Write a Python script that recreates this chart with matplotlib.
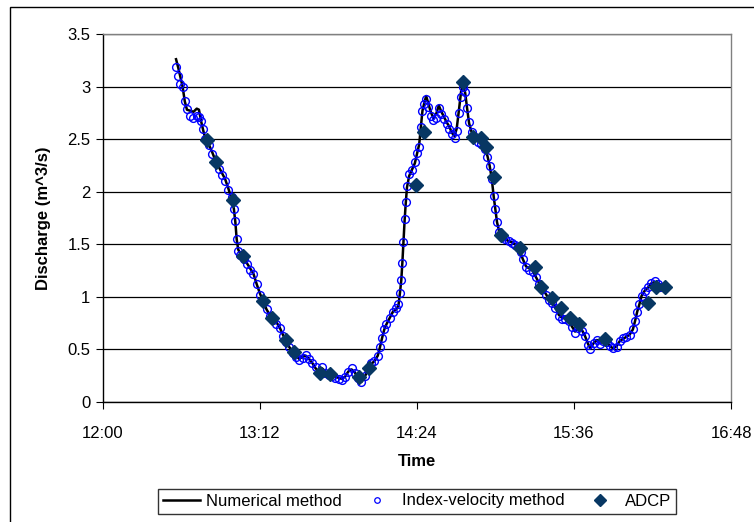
import matplotlib
matplotlib.use("Agg")
import matplotlib.pyplot as plt
from matplotlib.patches import Rectangle
from matplotlib.lines import Line2D

# time in minutes after 12:00
times = [33.5, 34.5, 35.5, 36.5, 37.5, 38.5, 40.0, 41.5, 43.0, 44.0, 45.0, 46.0, 47.0, 48.5,
         50.0, 51.5, 53.0, 54.5, 56.0, 57.5, 59.0, 60.0, 60.7, 61.3, 62.0, 63.0, 64.5, 66.0,
         67.5, 69.0, 70.5, 72.0, 73.5, 75.0, 76.5, 78.0, 79.5, 81.0, 82.5, 84.0, 85.5, 87.0,
         88.5, 90.0, 91.5, 93.0, 94.5, 96.0, 97.5, 99.0, 100.5, 102.0, 103.5, 105.0, 106.5,
         108.0, 109.5, 111.0, 112.5, 114.0, 115.5, 117.0, 118.5, 120.0, 121.5, 123.0, 124.5,
         126.0, 127.0, 128.0, 129.0, 130.0, 131.5, 133.0, 134.5, 135.5, 136.2, 136.8, 137.3,
         137.8, 138.3, 138.8, 139.4, 140.4, 141.7, 143.0, 144.0, 145.0, 145.8, 146.5, 147.4,
         148.2, 149.2, 150.3, 151.5, 152.8, 154.0, 155.2, 156.4, 157.6, 158.8, 160.0, 161.2,
         162.2, 163.2, 164.2, 165.1, 166.1, 167.0, 167.9, 169.0, 170.5, 172.0, 173.5, 175.0,
         176.3, 177.3, 178.3, 179.2, 179.9, 180.7, 181.7, 183.0, 184.5, 186.0, 187.5, 189.0,
         190.5, 191.5, 192.5, 194.0, 195.5, 197.0, 198.5, 200.0, 201.5, 203.0, 204.5, 206.0,
         207.5, 209.0, 210.5, 212.0, 213.5, 215.0, 216.5, 218.0, 219.5, 221.0, 222.5, 223.5,
         225.0, 226.5, 228.0, 229.5, 231.0, 232.5, 234.0, 235.5, 237.0, 238.5, 240.0, 241.5,
         243.0, 244.0, 245.0, 246.0, 247.0, 248.5, 250.0, 251.5, 253.0, 254.5, 255.5]

numerical = [3.26, 3.18, 3.09, 3.00, 2.86, 2.78, 2.77, 2.76, 2.79, 2.78, 2.67, 2.58, 2.50, 2.45,
             2.38, 2.30, 2.24, 2.18, 2.12, 2.03, 1.93, 1.84, 1.71, 1.55, 1.45, 1.41, 1.38, 1.32,
             1.27, 1.22, 1.12, 1.03, 0.96, 0.88, 0.83, 0.79, 0.76, 0.71, 0.64, 0.58, 0.52, 0.48,
             0.44, 0.41, 0.43, 0.44, 0.41, 0.37, 0.32, 0.29, 0.32, 0.29, 0.27, 0.25, 0.24,
             0.23, 0.22, 0.24, 0.29, 0.31, 0.28, 0.23, 0.19, 0.24, 0.30, 0.36, 0.39,
             0.44, 0.52, 0.61, 0.69, 0.74, 0.80, 0.86, 0.88, 0.92, 1.04, 1.16, 1.33,
             1.53, 1.72, 1.88, 2.04, 2.15, 2.21, 2.27, 2.36, 2.45, 2.62, 2.77, 2.85,
             2.91, 2.84, 2.76, 2.70, 2.74, 2.82, 2.76, 2.71, 2.66, 2.62, 2.56, 2.53,
             2.60, 2.77, 2.95, 3.02, 2.94, 2.79, 2.65, 2.57, 2.53, 2.48, 2.45, 2.42,
             2.34, 2.25, 2.12, 1.95, 1.84, 1.71, 1.62, 1.57, 1.55, 1.53, 1.52, 1.50,
             1.47, 1.42, 1.36, 1.29, 1.27, 1.25, 1.19, 1.13, 1.08, 1.03, 0.98, 0.95,
             0.90, 0.83, 0.80, 0.80, 0.78, 0.72, 0.67, 0.70, 0.69, 0.63, 0.55, 0.51,
             0.56, 0.59, 0.56, 0.58, 0.57, 0.53, 0.51, 0.53, 0.58, 0.60, 0.62, 0.64,
             0.69, 0.77, 0.86, 0.93, 1.01, 1.06, 1.09, 1.13, 1.14, 1.12, 1.09]

index_velocity = [3.19, 3.10, 3.02, 3.00, 2.86, 2.79, 2.72, 2.70, 2.72, 2.71, 2.67, 2.60, 2.50, 2.44,
                  2.36, 2.28, 2.22, 2.16, 2.10, 2.02, 1.95, 1.84, 1.72, 1.55, 1.44, 1.40, 1.36, 1.31,
                  1.26, 1.22, 1.12, 1.02, 0.95, 0.88, 0.82, 0.78, 0.74, 0.70, 0.63, 0.57, 0.52, 0.47,
                  0.43, 0.40, 0.42, 0.45, 0.41, 0.37, 0.33, 0.28, 0.33, 0.28, 0.26, 0.25, 0.23,
                  0.22, 0.21, 0.24, 0.29, 0.32, 0.28, 0.23, 0.19, 0.25, 0.31, 0.37, 0.39,
                  0.44, 0.52, 0.61, 0.69, 0.74, 0.80, 0.86, 0.89, 0.93, 1.04, 1.16, 1.32,
                  1.52, 1.74, 1.90, 2.05, 2.17, 2.21, 2.28, 2.37, 2.43, 2.62, 2.77, 2.83,
                  2.88, 2.81, 2.72, 2.68, 2.70, 2.80, 2.74, 2.69, 2.64, 2.60, 2.55, 2.51,
                  2.58, 2.75, 2.90, 3.00, 2.95, 2.80, 2.66, 2.57, 2.52, 2.47, 2.45, 2.41,
                  2.33, 2.24, 2.12, 1.96, 1.84, 1.71, 1.62, 1.57, 1.55, 1.53, 1.51, 1.49,
                  1.47, 1.43, 1.36, 1.28, 1.26, 1.24, 1.19, 1.12, 1.07, 1.02, 0.97, 0.94,
                  0.89, 0.82, 0.79, 0.79, 0.77, 0.71, 0.66, 0.70, 0.68, 0.63, 0.54, 0.50,
                  0.56, 0.59, 0.55, 0.58, 0.57, 0.53, 0.51, 0.52, 0.58, 0.61, 0.62, 0.64,
                  0.69, 0.77, 0.86, 0.93, 1.01, 1.06, 1.09, 1.13, 1.15, 1.12, 1.09]

adcp_times = [47.7, 51.8, 59.6, 64.2, 73.4, 77.5, 83.9, 87.6, 99.5, 104.1, 117.4, 122.0,
              143.6, 147.2, 165.1, 169.7, 173.4, 175.7, 179.4, 182.6, 191.3, 198.2, 200.9,
              206.0, 210.1, 214.2, 218.3, 230.3, 250.0, 253.7, 257.8]
adcp_values = [2.49, 2.28, 1.92, 1.39, 0.96, 0.80, 0.59, 0.48, 0.28, 0.27, 0.24, 0.32,
               2.06, 2.57, 3.04, 2.52, 2.51, 2.43, 2.14, 1.59, 1.46, 1.28, 1.09,
               0.99, 0.89, 0.80, 0.74, 0.60, 0.94, 1.09, 1.09]

x_ticks = [0, 72, 144, 216, 288]
x_tick_labels = ["12:00", "13:12", "14:24", "15:36", "16:48"]
y_ticks = [0, 0.5, 1, 1.5, 2, 2.5, 3, 3.5]
y_tick_labels = ["0", "0.5", "1", "1.5", "2", "2.5", "3", "3.5"]

plt.rcParams['font.family'] = ['Liberation Sans', 'DejaVu Sans']

W, H = 754, 522
fig = plt.figure(figsize=(W / 100, H / 100), dpi=100)
fig.patch.set_facecolor('white')
fig.patches.append(Rectangle((10 / W, -0.1), 1.2, 1 - 7 / H + 0.1, transform=fig.transFigure,
                             fill=False, edgecolor='black', linewidth=1.0))

ax = fig.add_axes([103 / W, 1 - 402 / H, (731 - 103) / W, (402 - 34) / H])
ax.set_xlim(0, 288)
ax.set_ylim(0, 3.5)
ax.set_xticks(x_ticks)
ax.set_xticklabels(x_tick_labels)
ax.set_yticks(y_ticks)
ax.set_yticklabels(y_tick_labels)
ax.tick_params(direction='out', length=5, width=0.8, labelsize=12, colors='black', pad=4)
ax.tick_params(axis='x', pad=12)
ax.grid(axis='y', color='black', linewidth=0.9)
ax.set_axisbelow(True)
for s in ['top', 'right']:
    ax.spines[s].set_color('#808080')
    ax.spines[s].set_linewidth(1.0)
for s in ['left', 'bottom']:
    ax.spines[s].set_color('black')
    ax.spines[s].set_linewidth(1.0)

ax.plot(times, numerical, color='black', linewidth=1.8, zorder=3)
ax.plot(times, index_velocity, linestyle='none', marker='o', markersize=5.6,
        markerfacecolor='none', markeredgecolor='#0000FF', markeredgewidth=1.0, zorder=4)
ax.plot(adcp_times, adcp_values, linestyle='none', marker='D', markersize=7,
        color='#073763', markeredgecolor='#073763', zorder=5)

ax.set_xlabel('Time', fontsize=12, fontweight='bold', labelpad=10)
ax.set_ylabel('Discharge (m^3/s)', fontsize=12, fontweight='bold', labelpad=12)

handles = [Line2D([], [], color='black', linewidth=1.8),
           Line2D([], [], linestyle='none', marker='o', markersize=4, markerfacecolor='none',
                  markeredgecolor='#0000FF', markeredgewidth=0.9),
           Line2D([], [], linestyle='none', marker='D', markersize=6, color='#073763')]
leg = fig.legend(handles, ['Numerical method', 'Index-velocity method', 'ADCP'],
                 loc='center', bbox_to_anchor=(417 / W, 1 - 501 / H), ncol=3, frameon=True,
                 fancybox=False, shadow=False, edgecolor='black', fontsize=12,
                 handlelength=2.2, handletextpad=0.4, columnspacing=1.0, borderpad=0.3)
leg.get_frame().set_linewidth(1.0)

fig.savefig('out.png', dpi=100, facecolor='white')
